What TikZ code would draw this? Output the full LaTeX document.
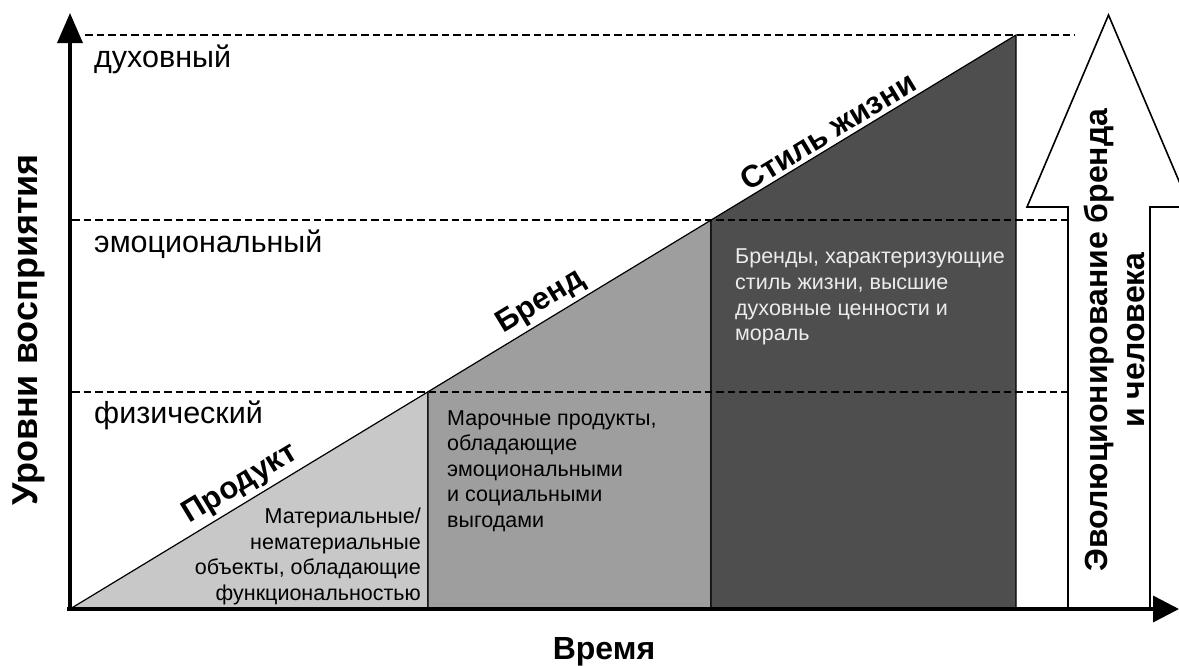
\documentclass[tikz,border=0pt]{standalone}
\usepackage{fontspec}
\setmainfont{Liberation Sans}
\usetikzlibrary{arrows.meta}
\definecolor{cLight}{RGB}{200,200,200}
\definecolor{cMid}{RGB}{158,158,158}
\definecolor{cDark}{RGB}{78,78,78}
\definecolor{cWhiteText}{RGB}{236,236,236}
\tikzset{
  axisline/.style={line width=3.5pt},
  levelline/.style={line width=1.8pt, dash pattern=on 7.5pt off 4pt},
  region/.style={draw=black, line width=1.2pt},
  lvl/.style={font=\fontsize{30.5}{35}\selectfont, inner sep=0pt},
  desc/.style={font=\fontsize{21.5}{25.6}\selectfont, inner sep=0pt},
  slopelbl/.style={font=\bfseries\fontsize{31}{36}\selectfont, rotate=31.25, anchor=south, inner sep=4pt},
  bigarrow/.style={draw=black, line width=1.6pt, fill=white},
  axlbl/.style={font=\bfseries\fontsize{36}{40}\selectfont, inner sep=0pt},
}
\begin{document}
\begin{tikzpicture}[x=1pt,y=-1pt]
\useasboundingbox (0,0) rectangle (1179,665);
\clip (0,0) rectangle (1179,665);
% key points
\coordinate (O) at (70,609);
\coordinate (B1) at (428,609);
\coordinate (P1) at (428,391.8);
\coordinate (B2) at (711,609);
\coordinate (P2) at (711,220.1);
\coordinate (B3) at (1016,609);
\coordinate (T) at (1016,35);
% regions
\filldraw[region, fill=cLight] (O) -- (P1) -- (B1) -- cycle;
\filldraw[region, fill=cMid] (B1) -- (P1) -- (P2) -- (B2) -- cycle;
\filldraw[region, fill=cDark] (B2) -- (P2) -- (T) -- (B3) -- cycle;
% big arrow
\coordinate (A1) at (1068,609);
\coordinate (A2) at (1068,207);
\coordinate (A3) at (1027,207);
\coordinate (A4) at (1108.5,15);
\coordinate (A5) at (1190,207);
\coordinate (A6) at (1150,207);
\coordinate (A7) at (1150,609);
\draw[bigarrow] (A1) -- (A2) -- (A3) -- (A4) -- (A5) -- (A6) -- (A7);
% dashed level lines
\coordinate (D3s) at (85,35);
\coordinate (D3e) at (1075,35);
\coordinate (D2s) at (72,220.1);
\coordinate (D2e) at (1068,220.1);
\coordinate (D1s) at (72,391.8);
\coordinate (D1e) at (1068,391.8);
\draw[levelline] (D3s) -- (D3e);
\draw[levelline] (D2s) -- (D2e);
\draw[levelline] (D1s) -- (D1e);
% axes
\coordinate (Ystart) at (70,611);
\coordinate (Ytip) at (70,13);
\coordinate (Xstart) at (67,609);
\coordinate (Xtip) at (1179,609);
\draw[axisline, -{Triangle[length=30pt,width=25pt]}] (Ystart) -- (Ytip);
\draw[axisline, -{Triangle[length=26pt,width=26pt]}] (Xstart) -- (Xtip);
% level labels
\node[lvl, anchor=base west] (lv3) at (94,67) {духовный};
\node[lvl, anchor=base west] (lv2) at (94,252) {эмоциональный};
\node[lvl, anchor=base west] (lv1) at (94,423) {физический};
% slope labels
\node[slopelbl] (sProd) at (250,499.8) {Продукт};
\node[slopelbl] (sBrand) at (550,317.7) {Бренд};
\node[slopelbl] (sLife) at (836,144.2) {Стиль жизни};
% descriptions
\node[desc, align=right, anchor=north east] (dProd) at (421,508) {Материальные/\\нематериальные\\объекты, обладающие\\функциональностью};
\node[desc, align=left, anchor=north west] (dBrand) at (447,410) {Марочные продукты,\\обладающие\\эмоциональными\\и социальными\\выгодами};
\node[desc, align=left, anchor=north west, text=cWhiteText] (dLife) at (735,249) {Бренды, характеризующие\\стиль жизни, высшие\\духовные ценности и\\мораль};
% axis labels
\node[axlbl, rotate=90, anchor=base] (yl) at (37,330) {Уровни восприятия};
\node[axlbl, font=\bfseries\fontsize{32}{36}\selectfont, anchor=base] (xl) at (604,659) {Время};
\node[font=\bfseries\fontsize{32}{37}\selectfont, rotate=90, align=center, inner sep=0pt] (evo) at (1114,340) {Эволюционирование бренда\\и человека};
\end{tikzpicture}
\end{document}
